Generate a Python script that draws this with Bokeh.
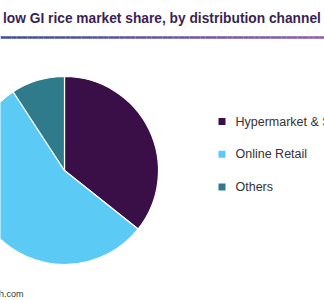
import numpy as np
from bokeh.plotting import figure
from bokeh.models import Range1d
from bokeh.core.properties import value
from bokeh.embed import file_html
from bokeh.resources import INLINE

# Data
categories = ["Hypermarket & Supermarket", "Online Retail", "Others"]
shares = [35.7, 55.1, 9.2]
colors = ["#3a0f48", "#5bcbf5", "#2f7b8b"]
title_text = "low GI rice market share, by distribution channel"
source_text = "Source: www.grandviewresearch.com"

W, H = 324, 300
p = figure(width=W, height=H, output_backend="svg", toolbar_location=None,
           x_range=Range1d(0, W), y_range=Range1d(0, H), min_border=0,
           outline_line_color=None, background_fill_color="white")
p.axis.visible = False
p.grid.visible = False

def py(y):  # pixel-from-top to data y
    return H - y

# Title
p.text(x=[2.5], y=[py(18)], text=[title_text], text_font=value("Liberation Sans"),
       text_font_style="bold", text_font_size="13.75px", text_color="#3b1f55",
       text_baseline="middle", text_align="left")

# Gradient rule under title
n = 60
xs = np.linspace(0, W, n + 1)
c0 = np.array([0x3a, 0x4d, 0xa0]); c1 = np.array([0x8e, 0x5a, 0xaa])
seg_cols = ["#%02x%02x%02x" % tuple((c0 + (c1 - c0) * t).astype(int)) for t in np.linspace(0, 1, n)]
p.segment(x0=xs[:-1], y0=[py(37)] * n, x1=xs[1:], y1=[py(37)] * n,
          line_color=seg_cols, line_width=2.5)

# Pie
frac = np.array(shares) / sum(shares)
cum = np.concatenate([[0], np.cumsum(frac)])
start = np.pi / 2 - cum[:-1] * 2 * np.pi
end = np.pi / 2 - cum[1:] * 2 * np.pi
p.wedge(x=64, y=py(170), radius=94, start_angle=start, end_angle=end,
        direction="clock", fill_color=colors, line_color="white", line_width=1.2)

# Legend
ly = [py(121 + i * 32.7) for i in range(len(categories))]
p.scatter(x=[221.5] * len(categories), y=ly, marker="square", size=7,
          fill_color=colors, line_color=None)
p.text(x=[235] * len(categories), y=ly, text=categories, text_font=value("Liberation Sans"),
       text_font_size="12.5px", text_color="#333333", text_baseline="middle", text_align="left")

# Source
p.text(x=[23], y=[py(293)], text=[source_text], text_font=value("Liberation Sans"),
       text_font_size="9px", text_color="#333333", text_baseline="middle", text_align="right")

open("out.html", "w").write(file_html(p, INLINE))
